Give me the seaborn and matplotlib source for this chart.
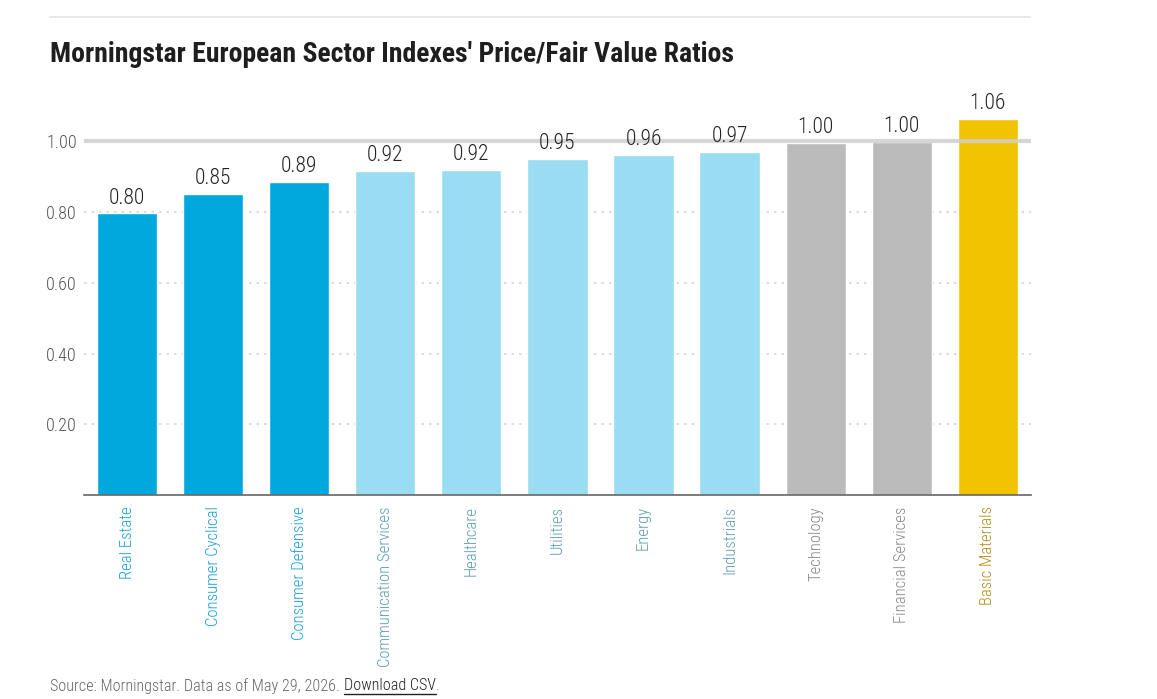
import matplotlib
matplotlib.use("Agg")
import matplotlib.pyplot as plt
from matplotlib import font_manager
import seaborn as sns

sectors = ["Real Estate", "Consumer Cyclical", "Consumer Defensive", "Communication Services",
           "Healthcare", "Utilities", "Energy", "Industrials", "Technology",
           "Financial Services", "Basic Materials"]
ratios = [0.796, 0.852, 0.886, 0.915, 0.918, 0.951, 0.962, 0.971, 0.996, 0.998, 1.062]
groups = ["under", "under", "under", "fair", "fair", "fair", "fair", "fair", "par", "par", "over"]
yticks = [0.2, 0.4, 0.6, 0.8, 1.0]

bar_colors = {"under": "#00a8de", "fair": "#9adcf2", "par": "#bbbbbb", "over": "#f2c300"}
label_colors = {"under": "#1a9fd4", "fair": "#5b9db3", "par": "#888888", "over": "#b08d1a"}

sns.set_style("white")
names = {f.name for f in font_manager.fontManager.ttflist}
font = "DejaVu Sans"
for cand in ["Roboto Condensed", "Archivo Narrow", "Barlow Condensed", "Liberation Sans Narrow"]:
    if cand in names:
        font = cand
        break
plt.rcParams["font.family"] = [font, "DejaVu Sans"]

fig = plt.figure(figsize=(11.57, 6.99), dpi=100)
ax = fig.add_axes([0.0726, 0.2918, 0.8184, 0.582])

sns.barplot(x=sectors, y=ratios, hue=sectors,
            palette=[bar_colors[g] for g in groups],
            width=0.7, saturation=1, legend=False, ax=ax, zorder=2)

ax.set_xlim(-0.5, 10.5)
ax.set_ylim(0, 1.15)
ax.set_yticks(yticks)
ax.set_yticklabels([f"{t:.2f}" for t in yticks], fontsize=13, color="#555555", fontweight="light")
ax.tick_params(axis="y", length=0, pad=5)
ax.tick_params(axis="x", length=0, pad=8)
ax.set_xticks(range(len(sectors)))
ax.set_xticklabels(sectors, rotation=90, fontsize=12, va="top", fontweight="light")
for lab, g in zip(ax.get_xticklabels(), groups):
    lab.set_color(label_colors[g])

for t in yticks[:-1]:
    ax.axhline(t, color="#d6d6d6", lw=1.2, ls=(0, (1.5, 3)), zorder=1)
ax.axhline(1.0, color="#cfcfcf", lw=3, alpha=0.85, zorder=3)

for i, v in enumerate(ratios):
    ax.annotate(f"{v:.2f}", (i, v), xytext=(0, 3.5), textcoords="offset points",
                ha="center", va="bottom", fontsize=15.5, color="#222222", fontweight="light")

for s in ["top", "right", "left"]:
    ax.spines[s].set_visible(False)
ax.spines["bottom"].set_color("#666666")
ax.spines["bottom"].set_linewidth(1.2)
ax.set_xlabel("")
ax.set_ylabel("")

fig.add_artist(plt.Line2D([50 / 1157, 1030 / 1157], [1 - 17 / 699, 1 - 17 / 699],
                          color="#e3e3e3", lw=1.2))
fig.text(50 / 1157, 1 - 55 / 699, "Morningstar European Sector Indexes' Price/Fair Value Ratios",
         fontsize=20, fontweight="bold", color="#1e1e1e", va="center")
src = fig.text(50 / 1157, 1 - 686 / 699, "Source: Morningstar. Data as of May 29, 2026. ",
               fontsize=11.6, color="#666666", va="center", fontweight="light")
fig.canvas.draw()
bb = src.get_window_extent()
csv = fig.text(bb.x1 / 1157, 1 - 686 / 699, "Download CSV", fontsize=11.6, color="#222222",
               va="center", fontweight="light")
bb2 = csv.get_window_extent()
fig.text(bb2.x1 / 1157, 1 - 686 / 699, ".", fontsize=11.6, color="#666666", va="center", fontweight="light")
fig.add_artist(plt.Line2D([bb2.x0 / 1157, bb2.x1 / 1157], [bb2.y0 / 699 - 0.001, bb2.y0 / 699 - 0.001],
                          color="#222222", lw=1))

fig.savefig("out.png", dpi=100)
